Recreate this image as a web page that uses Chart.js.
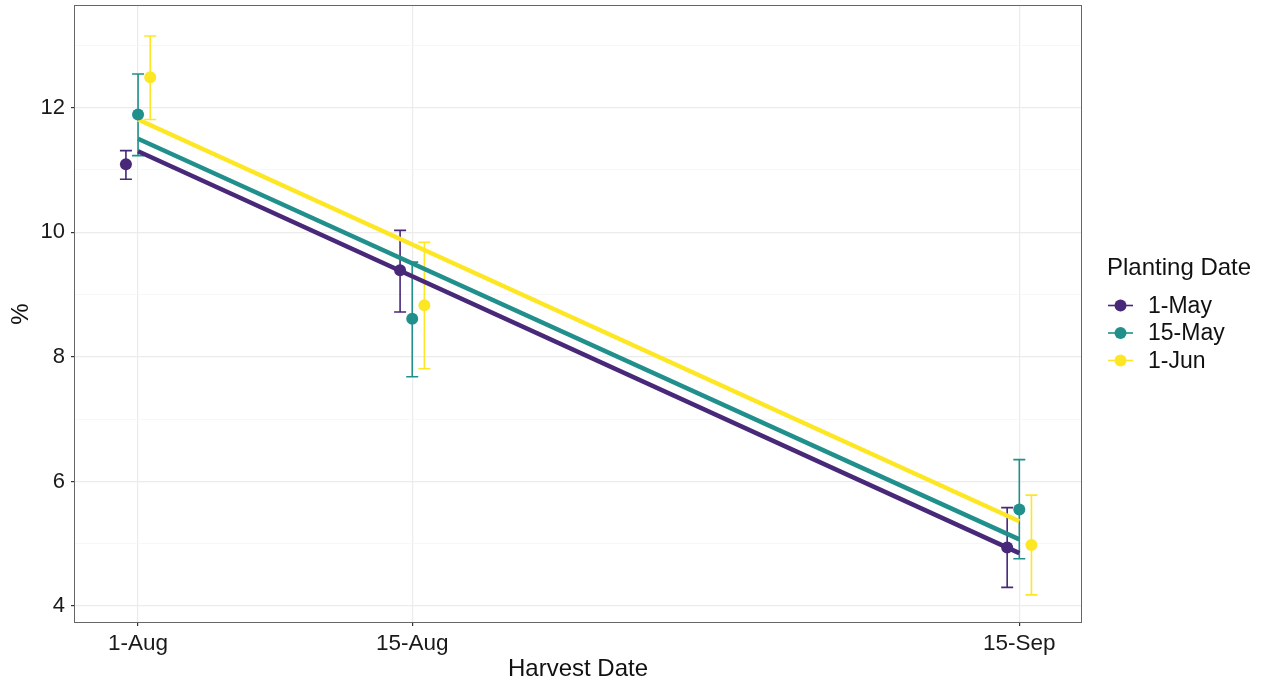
<!DOCTYPE html>
<html>
<head>
<meta charset="utf-8">
<script src="https://cdn.jsdelivr.net/npm/chart.js@4"></script>
<style>
  html, body { margin: 0; padding: 0; background: #fff; }
  #wrap { width: 1266px; height: 684px; }
</style>
</head>
<body>
<div id="wrap"><canvas id="chart1" width="1266" height="684"></canvas></div>
<script>
// categories (harvest dates as days after 1-Aug)
const harvestLabels = ['1-Aug', '15-Aug', '15-Sep'];
const harvestDays = [0, 14, 45];
const plantingDates = ['1-May', '15-May', '1-Jun'];

// means and error bar limits per planting date
const meanMay1 = [11.09, 9.39, 4.94];
const lowMay1 = [10.85, 8.72, 4.30];
const highMay1 = [11.31, 10.03, 5.58];

const meanMay15 = [11.89, 8.61, 5.55];
const lowMay15 = [11.23, 7.68, 4.76];
const highMay15 = [12.54, 9.52, 6.35];

const meanJun1 = [12.49, 8.83, 4.98];
const lowJun1 = [11.81, 7.81, 4.18];
const highJun1 = [13.15, 9.84, 5.78];

// fitted lines, value at 1-Aug and 15-Sep
const fitMay1 = [11.30, 4.85];
const fitMay15 = [11.50, 5.07];
const fitJun1 = [11.81, 5.36];

// tick values
const yMajorTicks = [4, 6, 8, 10, 12];
const yMinorTicks = [5, 7, 9, 11, 13];

const colors = ['#482878', '#21908C', '#FDE725'];
const dodge = [-0.62, 0, 0.62];
const FONT = "'Liberation Sans', Arial, sans-serif";

function pointSet(i, means, lows, highs) {
    return {
        type: 'scatter',
        label: plantingDates[i],
        data: means.map((v, k) => ({ x: harvestDays[k] + dodge[i], y: v })),
        errLow: lows,
        errHigh: highs,
        backgroundColor: colors[i],
        borderColor: colors[i],
        pointRadius: 6,
        pointHoverRadius: 6,
        borderWidth: 0,
        order: 0
    };
}

function fitSet(i, fit) {
    return {
        type: 'line',
        label: plantingDates[i] + ' fit',
        data: [{ x: harvestDays[0], y: fit[0] }, { x: harvestDays[2], y: fit[1] }],
        borderColor: colors[i],
        borderWidth: 4.5,
        pointRadius: 0,
        fill: false,
        order: 1
    };
}

// error bars drawn under everything else
const errorBars = {
    id: 'errorBars',
    beforeDatasetsDraw(chart) {
        const ctx = chart.ctx;
        const xs = chart.scales.x, ys = chart.scales.y;
        chart.data.datasets.forEach(ds => {
            if (!ds.errLow) return;
            ds.data.forEach((p, k) => {
                const x = xs.getPixelForValue(p.x);
                const y1 = ys.getPixelForValue(ds.errLow[k]);
                const y2 = ys.getPixelForValue(ds.errHigh[k]);
                ctx.save();
                ctx.strokeStyle = ds.borderColor;
                ctx.lineWidth = 1.6;
                ctx.beginPath();
                ctx.moveTo(x, y1); ctx.lineTo(x, y2);
                ctx.moveTo(x - 6, y1); ctx.lineTo(x + 6, y1);
                ctx.moveTo(x - 6, y2); ctx.lineTo(x + 6, y2);
                ctx.stroke();
                ctx.restore();
            });
        });
    }
};

// panel border and legend
const panelAndLegend = {
    id: 'panelAndLegend',
    afterDraw(chart) {
        const ctx = chart.ctx;
        const a = chart.chartArea;
        ctx.save();
        ctx.strokeStyle = '#666';
        ctx.lineWidth = 1;
        ctx.strokeRect(a.left - 0.5, a.top - 0.5, a.right - a.left + 1, a.bottom - a.top + 1);

        ctx.fillStyle = '#111';
        ctx.textBaseline = 'middle';
        ctx.font = '24px ' + FONT;
        ctx.fillText('Planting Date', 1107, 268);
        ctx.font = '23px ' + FONT;
        plantingDates.forEach((name, i) => {
            const y = 305.5 + i * 27.5;
            ctx.strokeStyle = colors[i];
            ctx.lineWidth = 1.6;
            ctx.beginPath();
            ctx.moveTo(1108, y); ctx.lineTo(1133, y);
            ctx.stroke();
            ctx.fillStyle = colors[i];
            ctx.beginPath();
            ctx.arc(1120.5, y, 6, 0, Math.PI * 2);
            ctx.fill();
            ctx.fillStyle = '#111';
            ctx.fillText(name, 1148, y + 1);
        });
        ctx.restore();
    }
};

const config = {
    data: {
        datasets: [
            fitSet(0, fitMay1),
            fitSet(1, fitMay15),
            fitSet(2, fitJun1),
            pointSet(0, meanMay1, lowMay1, highMay1),
            pointSet(1, meanMay15, lowMay15, highMay15),
            pointSet(2, meanJun1, lowJun1, highJun1)
        ]
    },
    options: {
        responsive: false,
        animation: false,
        layout: { padding: { top: 4, right: 185, left: 0, bottom: 0 } },
        plugins: {
            legend: { display: false },
            tooltip: { enabled: false }
        },
        scales: {
            x: {
                type: 'linear',
                min: -3.22,
                max: 48.15,
                afterBuildTicks(scale) {
                    scale.ticks = harvestDays.map(v => ({ value: v }));
                },
                afterFit(scale) {
                    scale.height = 62;
                    scale.paddingLeft = 0;
                    scale.paddingRight = 0;
                },
                ticks: {
                    callback(v) {
                        const k = harvestDays.indexOf(v);
                        return k >= 0 ? harvestLabels[k] : '';
                    },
                    color: '#1a1a1a',
                    font: { family: FONT, size: 22.5 },
                    padding: 4,
                    maxRotation: 0,
                    autoSkip: false
                },
                grid: {
                    color: '#ebebeb',
                    lineWidth: 1.2,
                    tickColor: '#333',
                    tickLength: 4
                },
                border: { display: false },
                title: {
                    display: true,
                    text: 'Harvest Date',
                    color: '#111',
                    font: { family: FONT, size: 24 },
                    padding: { top: 0, bottom: 0 }
                }
            },
            y: {
                type: 'linear',
                min: 3.744,
                max: 13.632,
                afterBuildTicks(scale) {
                    scale.ticks = yMajorTicks.concat(yMinorTicks).sort((p, q) => p - q).map(v => ({ value: v }));
                },
                afterFit(scale) {
                    scale.width = 75;
                    scale.paddingTop = 0;
                    scale.paddingBottom = 0;
                },
                ticks: {
                    callback(v) { return yMajorTicks.includes(v) ? String(v) : ''; },
                    color: '#1a1a1a',
                    font: { family: FONT, size: 22 },
                    padding: 6,
                    autoSkip: false
                },
                grid: {
                    color: ctx => yMajorTicks.includes(ctx.tick.value) ? '#ebebeb' : '#f5f5f5',
                    lineWidth: ctx => yMajorTicks.includes(ctx.tick.value) ? 1.2 : 0.8,
                    tickColor: ctx => yMajorTicks.includes(ctx.tick.value) ? '#333' : 'rgba(0,0,0,0)',
                    tickLength: 4
                },
                border: { display: false },
                title: {
                    display: true,
                    text: '%',
                    color: '#111',
                    font: { family: FONT, size: 24 },
                    padding: { top: 7, bottom: 0 }
                }
            }
        }
    },
    plugins: [errorBars, panelAndLegend]
};

const chart = new Chart(document.getElementById('chart1'), config);
</script>
</body>
</html>
